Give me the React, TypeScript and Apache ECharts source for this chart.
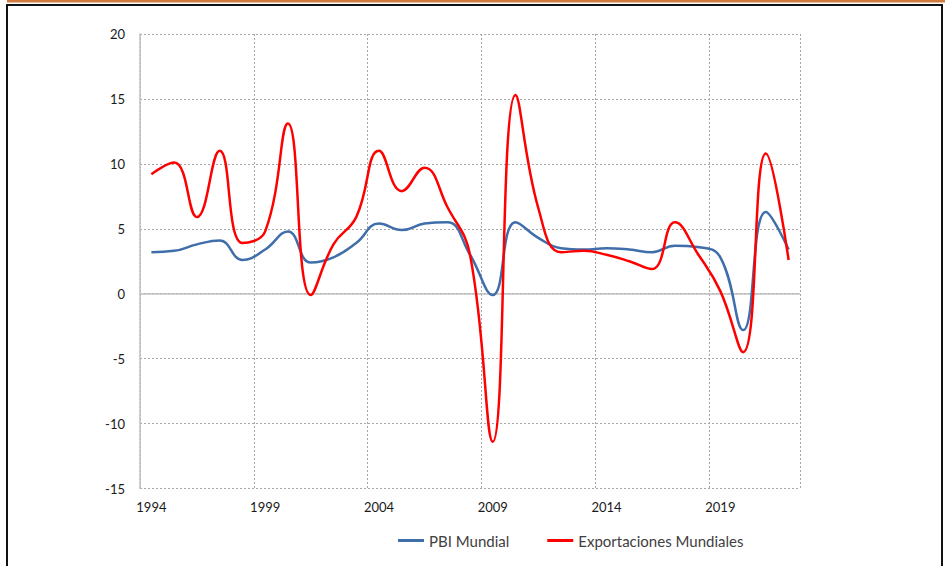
import React, { useEffect, useRef } from "react";
import * as echarts from "echarts";

const years: string[] = [
  "1994", "1995", "1996", "1997", "1998", "1999", "2000", "2001", "2002", "2003",
  "2004", "2005", "2006", "2007", "2008", "2009", "2010", "2011", "2012", "2013",
  "2014", "2015", "2016", "2017", "2018", "2019", "2020", "2021", "2022",
];

const pbiMundial: number[] = [
  3.2, 3.3, 3.8, 4.1, 2.6, 3.4, 4.8, 2.4, 2.8, 3.9,
  5.4, 4.9, 5.4, 5.5, 3.0, -0.1, 5.5, 4.3, 3.5, 3.4,
  3.5, 3.4, 3.2, 3.7, 3.6, 2.8, -2.8, 6.3, 3.4,
];

const exportacionesMundiales: number[] = [
  9.2, 10.1, 5.9, 11.0, 3.9, 4.8, 13.1, -0.1, 3.8, 5.9,
  11.0, 7.9, 9.7, 6.7, 3.0, -11.4, 15.3, 6.6, 3.2, 3.3,
  3.0, 2.5, 1.9, 5.5, 3.1, 0.2, -4.5, 10.8, 2.6,
];

const seriesNames: string[] = ["PBI Mundial", "Exportaciones Mundiales"];

export default function App() {
  const ref = useRef<HTMLDivElement>(null);

  useEffect(() => {
    if (!ref.current) return;
    const chart = echarts.init(ref.current, undefined, { renderer: "svg" });
    const font = "Lato, 'Open Sans', sans-serif";
    chart.setOption({
      animation: false,
      backgroundColor: "#ffffff",
      textStyle: { fontFamily: font },
      grid: { left: 140, right: 145, top: 34, bottom: 77.5, containLabel: false },
      legend: {
        left: 393,
        top: 528,
        itemGap: 38,
        itemWidth: 26,
        itemHeight: 3,
        icon: "rect",
        textStyle: { color: "#404040", fontSize: 15, fontFamily: font },
        data: seriesNames,
      },
      xAxis: {
        type: "category",
        data: years,
        boundaryGap: true,
        axisLine: { show: false },
        axisTick: { show: false },
        axisLabel: { interval: 4, color: "#1a1a1a", fontSize: 13, fontFamily: font, margin: 12 },
        splitLine: {
          show: true,
          interval: 4,
          lineStyle: { color: "#a6a6a6", type: [2, 2], width: 1 },
        },
      },
      yAxis: {
        type: "value",
        min: -15,
        max: 20,
        interval: 5,
        axisLine: { show: true, lineStyle: { color: "#bfbfbf", width: 1.5 } },
        axisTick: { show: false },
        axisLabel: { color: "#1a1a1a", fontSize: 13, fontFamily: font, margin: 15 },
        splitLine: { show: true, lineStyle: { color: "#a6a6a6", type: [2, 2], width: 1 } },
      },
      series: [
        {
          name: seriesNames[0],
          type: "line",
          data: pbiMundial,
          smooth: 0.45,
          showSymbol: false,
          symbol: "none",
          lineStyle: { color: "#3f6eaa", width: 2.5 },
          itemStyle: { color: "#3f6eaa" },
          z: 3,
          markLine: {
            silent: true,
            symbol: "none",
            label: { show: false },
            lineStyle: { color: "#bfbfbf", type: "solid", width: 1.5 },
            data: [{ yAxis: 0 }],
            z: 1,
          },
        },
        {
          name: seriesNames[1],
          type: "line",
          data: exportacionesMundiales,
          smooth: 0.45,
          showSymbol: false,
          symbol: "none",
          lineStyle: { color: "#ff0000", width: 2.5 },
          itemStyle: { color: "#ff0000" },
          z: 4,
        },
      ],
      graphic: [
        { type: "rect", shape: { x: 7, y: 0, width: 938, height: 2.5 }, style: { fill: "#d27a3e" }, silent: true },
        { type: "rect", shape: { x: 6, y: 4, width: 937, height: 2 }, style: { fill: "#111111" }, silent: true },
        { type: "rect", shape: { x: 6, y: 4, width: 2, height: 562 }, style: { fill: "#111111" }, silent: true },
        { type: "rect", shape: { x: 941, y: 4, width: 2, height: 562 }, style: { fill: "#111111" }, silent: true },
      ],
    });
    return () => chart.dispose();
  }, []);

  return (
    <div
      ref={ref}
      style={{ position: "fixed", left: 0, top: 0, width: 945, height: 566, background: "#fff" }}
    />
  );
}
